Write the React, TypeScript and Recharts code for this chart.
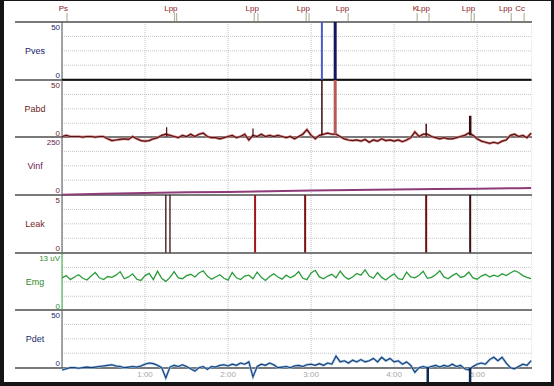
import React from 'react';
import { LineChart, Line, XAxis, YAxis, ReferenceLine, CartesianGrid } from 'recharts';

// one reading every 3 s (0.05 min)
const SAMPLE_STEP = 0.05;

const pabd = [
  1, 2, 1, 1, 1, 0.5, 1, 1, 0.5, 1,
  1, -1, -2.5, -2, -1.5, -1, -1.5, 1, -1, -2.5,
  -3, -2.5, -1, 0, 2, 3, 2, 1, 0, 2,
  1, 3, 1, 3, 4, 1, 0, 0, -1, 0,
  1, 2, 0, 1, 3, -2, 2, 1, 3, 1,
  2, 1, 2, 1, 0, 1, -1, 1, 3, 7,
  2, -1, 2, 3, 4, 3, 3, 1, -1, -2,
  -2.5, -2, -3, -1.5, -4, -2, -3, -1, -2.5, -2,
  -3, -2, -3.5, -2, 0, 5, 1, 3, 3, 1,
  0, -1, 0, -1, -1, 0, 1, 2, 4, 2,
  -1, -3, -4, -5, -4, -5, -3, -2, 2, 3,
  1, 2, 0, 4,
];

const emg = [
  7.4, 7.9, 7.0, 7.6, 8.1, 7.3, 6.9, 7.8, 8.6, 7.4,
  7.0, 7.7, 7.5, 8.0, 8.8, 7.2, 7.6, 8.3, 7.1, 6.8,
  7.9, 8.4, 7.0, 8.9, 7.3, 6.6, 7.5, 8.8, 7.4, 7.2,
  7.9, 8.2, 7.6, 8.5, 9.0, 7.8, 7.1, 7.6, 8.1, 7.3,
  6.9, 8.6, 7.4, 7.0, 7.8, 8.0, 7.2, 8.7, 7.5, 6.8,
  7.7, 8.3, 7.6, 7.1, 8.0, 7.4, 7.9, 8.8, 7.3, 7.0,
  8.5, 9.1, 7.6, 7.2, 7.8, 8.2, 7.4, 8.9, 7.7, 7.1,
  7.6, 8.4, 8.0, 9.2, 7.8, 7.3, 8.6, 7.5, 6.9, 7.7,
  8.3, 7.2, 7.0, 8.7, 7.6, 7.4, 8.0, 8.9, 7.3, 7.5,
  8.1, 9.0, 7.6, 7.2, 7.9, 8.4, 7.5, 7.8, 8.7, 7.4,
  7.1, 7.8, 8.2, 7.6, 8.0, 7.7, 8.3, 7.9, 8.5, 9.0,
  8.6, 7.9, 7.5, 7.2,
];

const pdet = [
  -2, -1, 0, 0, -0.5, 0, 0.5, 0, 0.5, 1,
  1.5, 2, 2.5, 1.5, 1, 0, 0.5, 1, 0.5, 1.5,
  3, 4, 3.5, 2, 0, -9, 0.5, 2, 1, 2.5,
  1, -1, -3, 0, 1, -1.5, 1, 0.5, 2, 2.5,
  1.5, 3, 2, 4, 3, 5, -8, 1, 3, 2,
  4, 2.5, 0, 0.5, 1, 0, 1.5, 2, 1, 2.5,
  3, 2, 3.5, 2, 4, 3, 10, 5, 6, 4,
  6.5, 5, 7, 5, 6, 8, 5, 9, 6, 8,
  5, 6, 3, 5, 2, -4, 0, 1, 0, 1,
  2, 0.5, 2, 1, 3, 1, 2, -1, -2, 1,
  3, 4, 3, 7, 9, 6, 9, 4, 0, -1,
  1, 3, 2, 6,
];

const minutes = pabd.map((_, i) => Math.round(i * SAMPLE_STEP * 100) / 100);

const vinfMinutes = [0, 0.5, 1, 1.5, 2, 2.5, 3, 3.5, 4, 4.5, 5, 5.5, 5.65];
const vinf = [0, 4, 7, 10, 12, 15, 18, 20, 22, 24, 26, 28, 29];

const pvesMinutes = [0, 1, 2, 3, 4, 5, 5.65];
const pves = [0, 0, 0, 0, 0, 0, 0];

// narrow pressure spikes
const pvesSpikes = [
  { t: 3.13, from: 0, to: 70 },
  { t: 3.29, from: 0, to: 70 },
];
const pabdSpikes = [
  { t: 1.26, from: 1, to: 9 },
  { t: 2.3, from: 1, to: 8 },
  { t: 3.13, from: 2, to: 70 },
  { t: 3.29, from: 3, to: 70 },
  { t: 4.386, from: 1, to: 12 },
  { t: 4.916, from: 2, to: 19 },
];
const pdetSpikes = [
  { t: 4.405, from: 0, to: -14 },
  { t: 4.915, from: 0, to: -20 },
];

const leakMinutes = [1.25, 1.3, 2.325, 2.928, 4.386, 4.916];
const leakValues = [5, 5, 5, 5, 5, 5];

const eventMinutes = [0.06, 1.355, 1.38, 2.315, 2.36, 2.94, 2.975, 3.446, 4.277, 4.42, 4.928, 4.964, 5.41, 5.565];
const eventTags = ['Ps', '', 'Lpp', '', 'Lpp', '', 'Lpp', 'Lpp', 'K', 'Lpp', '', 'Lpp', 'Lpp', 'Cc'];

const timeTicks = [1, 2, 3, 4, 5];

const rows = minutes.map((t, i) => ({ t, pabd: pabd[i], emg: emg[i], pdet: pdet[i] }));
const vinfRows = vinfMinutes.map((t, i) => ({ t, v: vinf[i] }));
const pvesRows = pvesMinutes.map((t, i) => ({ t, v: pves[i] }));

// layout
const W = 554;
const H = 386;
const PLOT_LEFT = 62;
const PLOT_RIGHT = 532;
const TOP = 22;
const PANEL_H = 57.67;
const T_MAX = 5.66;
const FONT = '"Liberation Sans", Arial, sans-serif';

type PanelSpec = {
  name: string;
  hi: number;
  lo: number;
  topLabel: string;
  color: string;
  axisColor: string;
};

const panelSpecs: PanelSpec[] = [
  { name: 'Pves', hi: 50, lo: -2, topLabel: '50', color: '#1b1b6b', axisColor: '#555' },
  { name: 'Pabd', hi: 50, lo: -8, topLabel: '50', color: '#6b1b1b', axisColor: '#555' },
  { name: 'Vinf', hi: 250, lo: -5, topLabel: '250', color: '#6b1b4f', axisColor: '#555' },
  { name: 'Leak', hi: 5, lo: 0, topLabel: '5', color: '#7a1b1b', axisColor: '#555' },
  { name: 'Emg', hi: 13, lo: 0, topLabel: '13 uV', color: '#2e8b2e', axisColor: '#3aa83a' },
  { name: 'Pdet', hi: 50, lo: -17, topLabel: '50', color: '#1b2b6b', axisColor: '#555' },
];

const spikeLine = (key: string, t: number, from: number, to: number, stroke: string, width: number) => (
  <Line
    key={key}
    data={[{ t, v: from }, { t, v: to }]}
    dataKey="v"
    stroke={stroke}
    strokeWidth={width}
    dot={false}
    isAnimationActive={false}
  />
);

const Panel = ({ spec, index, children }: { spec: PanelSpec; index: number; children?: React.ReactNode }) => {
  const top = TOP + PANEL_H * index;
  const height = (PANEL_H * (spec.hi - spec.lo)) / spec.hi;
  const tick = (props: any) => {
    const { y, payload } = props;
    const isTop = payload.value === spec.hi;
    return (
      <g>
        <text x={60} y={isTop ? y + 8 : y - 2} textAnchor="end" fontSize={8} fill={spec.color} fontFamily={FONT}>
          {isTop ? spec.topLabel : '0'}
        </text>
        {isTop && (
          <text x={35} y={y + PANEL_H / 2 + 3} textAnchor="middle" fontSize={9} fill={spec.color} fontFamily={FONT}>
            {spec.name}
          </text>
        )}
      </g>
    );
  };
  return (
    <div style={{ position: 'absolute', left: 0, top, width: PLOT_RIGHT, height }}>
      <LineChart width={PLOT_RIGHT} height={height} data={rows} margin={{ top: 0, right: 0, bottom: 0, left: 0 }}>
        <XAxis type="number" dataKey="t" domain={[0, T_MAX]} allowDataOverflow hide />
        <YAxis
          type="number"
          domain={[spec.lo, spec.hi]}
          allowDataOverflow
          width={PLOT_LEFT}
          ticks={[0, spec.hi]}
          interval={0}
          axisLine={false}
          tickLine={false}
          tick={tick}
        />
        {[0.25, 0.5, 0.75].map((q) => (
          <ReferenceLine key={q} y={spec.hi * q} stroke="#c4c4c4" strokeDasharray="1 1" />
        ))}
        <ReferenceLine segment={[{ x: 0, y: 0 }, { x: 0, y: spec.hi }]} stroke={spec.axisColor} />
        {children}
      </LineChart>
    </div>
  );
};

export default function App() {
  const pvesSpikeStyle = [
    { stroke: '#4a5ad0', w: 2 },
    { stroke: '#16165e', w: 3 },
  ];
  const pabdSpikeStyle = ['#4a0e0e', '#4a0e0e', '#3a0a0a', '#b35a5a', '#4a0e0e', '#3a0a0a'];
  const pabdSpikeWidth = [1.2, 1.2, 1.5, 3, 1.5, 2.5];
  const leakColors = ['#3a1010', '#3a1010', '#a01818', '#7a1010', '#6a1010', '#3a1010'];
  const leakWidths = [1.3, 1.3, 2, 2, 2, 2];

  const eventTag = (tag: string) => (props: any) => {
    const { x, index } = props;
    if (index !== 1 || !tag) return null;
    return (
      <text key={`tag-${tag}-${x}`} x={x + 1} y={11} textAnchor="end" fontSize={8} fill="#8b1a1a" fontFamily={FONT}>
        {tag}
      </text>
    );
  };

  return (
    <div style={{ position: 'absolute', left: 0, top: 0, width: W, height: H, background: '#fff', overflow: 'hidden' }}>
      {/* time axis + minute grid */}
      <div style={{ position: 'absolute', left: 0, top: 0 }}>
        <LineChart width={PLOT_RIGHT} height={H} data={rows} margin={{ top: TOP, right: 0, bottom: 0, left: PLOT_LEFT }}>
          <CartesianGrid horizontal={false} stroke="#c4c4c4" strokeDasharray="1 1" />
          <XAxis
            type="number"
            dataKey="t"
            domain={[0, T_MAX]}
            allowDataOverflow
            ticks={timeTicks}
            interval={0}
            tickFormatter={(m: number) => `${m}:00`}
            axisLine={false}
            tickLine={false}
            tickSize={0}
            tickMargin={3}
            height={H - (TOP + PANEL_H * 6)}
            tick={{ fontSize: 8, fill: '#a8a8a8', fontFamily: FONT }}
          />
          <YAxis hide domain={[0, 1]} />
        </LineChart>
      </div>

      {/* panel separators */}
      {panelSpecs.concat([panelSpecs[0]]).map((_, k) => (
        <div
          key={k}
          style={{
            position: 'absolute',
            left: 15,
            top: TOP + PANEL_H * k - 1,
            width: PLOT_RIGHT - 15,
            height: 2,
            background: '#7a7a7a',
          }}
        />
      ))}

      <Panel spec={panelSpecs[0]} index={0}>
        <Line data={pvesRows} dataKey="v" stroke="#111" strokeWidth={2} dot={false} isAnimationActive={false} />
        {pvesSpikes.map((s, i) => spikeLine(`pv${i}`, s.t, s.from, s.to, pvesSpikeStyle[i].stroke, pvesSpikeStyle[i].w))}
      </Panel>

      <Panel spec={panelSpecs[1]} index={1}>
        <Line dataKey="pabd" stroke="#d98a8a" strokeWidth={2.6} dot={false} isAnimationActive={false} />
        <Line dataKey="pabd" stroke="#561212" strokeWidth={1.2} dot={false} isAnimationActive={false} />
        {pabdSpikes.map((s, i) => spikeLine(`pa${i}`, s.t, s.from, s.to, pabdSpikeStyle[i], pabdSpikeWidth[i]))}
      </Panel>

      <Panel spec={panelSpecs[2]} index={2}>
        <Line data={vinfRows} dataKey="v" stroke="#8e3c78" strokeWidth={2} dot={false} isAnimationActive={false} />
      </Panel>

      <Panel spec={panelSpecs[3]} index={3}>
        {leakMinutes.map((t, i) => spikeLine(`lk${i}`, t, 0, leakValues[i], leakColors[i], leakWidths[i]))}
      </Panel>

      <Panel spec={panelSpecs[4]} index={4}>
        <Line dataKey="emg" stroke="#2a9c3a" strokeWidth={1.3} dot={false} isAnimationActive={false} />
      </Panel>

      <Panel spec={panelSpecs[5]} index={5}>
        <Line dataKey="pdet" stroke="#9cc0e0" strokeWidth={2.4} dot={false} isAnimationActive={false} />
        <Line dataKey="pdet" stroke="#173f78" strokeWidth={1.1} dot={false} isAnimationActive={false} />
        {pdetSpikes.map((s, i) => spikeLine(`pd${i}`, s.t, s.from, s.to, '#0e2a50', 2.5))}
      </Panel>

      {/* event markers */}
      <div style={{ position: 'absolute', left: 0, top: 0, width: PLOT_RIGHT, height: TOP }}>
        <LineChart width={PLOT_RIGHT} height={TOP} data={rows} margin={{ top: 13, right: 0, bottom: 1, left: 0 }}>
          <XAxis type="number" dataKey="t" domain={[0, T_MAX]} allowDataOverflow hide />
          <YAxis type="number" domain={[0, 1]} allowDataOverflow width={PLOT_LEFT} tick={false} axisLine={false} tickLine={false} />
          {eventMinutes.map((t, i) => (
            <Line
              key={`ev${i}`}
              data={[{ t, v: 0 }, { t, v: 1 }]}
              dataKey="v"
              stroke="#b2b69a"
              strokeWidth={1.2}
              dot={false}
              label={eventTag(eventTags[i])}
              isAnimationActive={false}
            />
          ))}
        </LineChart>
      </div>

      {/* dark frame */}
      <div style={{ position: 'absolute', left: 0, top: 0, width: W, height: 1, background: '#151515' }} />
      <div style={{ position: 'absolute', left: 0, top: 0, width: 4, height: H, background: '#151515' }} />
      <div style={{ position: 'absolute', left: 551, top: 0, width: 3, height: H, background: '#151515' }} />
      <div style={{ position: 'absolute', left: 0, top: 382, width: W, height: 4, background: '#151515' }} />
    </div>
  );
}
